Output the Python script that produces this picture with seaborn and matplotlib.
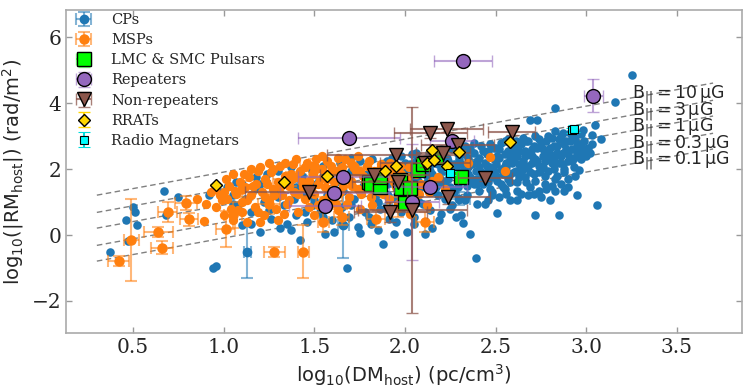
import numpy as np
import pandas as pd
import matplotlib
matplotlib.use('Agg')
import matplotlib.pyplot as plt
from matplotlib.colors import to_rgba
import seaborn as sns

sns.set_style('ticks')
plt.rcParams['font.family'] = ['DejaVu Serif']
plt.rcParams['mathtext.fontset'] = 'dejavusans'

# --- CPs (bulk, no visible error bars) ---
cp_x = [0.37, 0.47, 0.46, 0.50, 0.51, 0.52, 0.67, 0.68, 0.75, 0.94, 0.96,
        0.92, 0.98, 1.02, 1.05, 1.07, 1.08, 1.10, 1.12, 1.15, 1.17, 1.18, 1.20, 1.22, 1.24,
        1.26, 1.28, 1.30, 1.31, 1.33, 1.35, 1.37, 1.37, 1.39, 1.40, 1.42, 1.43, 1.45, 1.46, 1.48, 1.49,
        1.51, 1.53, 1.55, 1.56, 1.57, 1.59, 1.60, 1.61, 1.62, 1.64, 1.65, 1.66, 1.68, 1.69, 1.70, 1.72,
        1.74, 1.75, 1.77, 1.78, 1.79,
        1.81, 1.82, 1.84, 1.86, 1.88, 1.88, 1.90, 1.91, 1.93, 1.94, 1.95, 1.97, 1.98, 2.00, 2.01, 2.02,
        2.04, 2.05, 2.07, 2.08, 2.09,
        2.11, 2.12, 2.13, 2.14, 2.15, 2.16, 2.18, 2.19, 2.20, 2.21, 2.22, 2.23, 2.24, 2.26, 2.27, 2.28,
        2.29, 2.30, 2.31, 2.32, 2.33, 2.34, 2.35, 2.36, 2.37, 2.38, 2.39, 2.40,
        2.41, 2.42, 2.43, 2.44, 2.45, 2.46, 2.47, 2.48, 2.49, 2.50, 2.51, 2.52, 2.53, 2.54, 2.55, 2.56,
        2.57, 2.58, 2.59, 2.60, 2.61, 2.62, 2.63, 2.64, 2.65, 2.66, 2.67, 2.68, 2.69, 2.70,
        2.71, 2.72, 2.72, 2.73, 2.74, 2.75, 2.76, 2.77, 2.78, 2.79, 2.80, 2.81, 2.82, 2.83, 2.83, 2.84,
        2.85, 2.86, 2.87, 2.88, 2.89, 2.90, 2.91, 2.92, 2.94, 2.95, 2.96, 2.97, 2.98, 3.00,
        3.02, 3.03, 3.03, 3.05, 3.06, 3.08, 3.16, 3.25,
        2.02, 2.06, 2.10, 2.14, 2.17, 2.21, 2.25, 2.27, 2.30, 2.33, 2.36, 2.38, 2.41, 2.43, 2.45, 2.47,
        2.49, 2.51, 2.53, 2.55, 2.57, 2.58, 2.60, 2.62, 2.63, 2.65, 2.66, 2.68, 2.70, 2.71, 2.73, 2.74,
        2.76, 2.77, 2.79, 2.80, 2.82, 2.84, 2.85, 2.87, 2.88, 2.90, 2.92, 2.93, 2.95, 2.97, 2.99, 2.86,
        2.78, 2.69, 2.64, 2.56, 2.46, 2.52, 2.75, 2.88, 2.94, 2.40, 2.35, 2.58, 2.67, 2.72, 2.83, 2.61,
        2.50]
cp_y = [-0.52, -0.18, 0.45, 0.85, 0.70, 0.30, 1.33, 0.60, 1.15, -1.00, -0.94,
        1.20, 1.30, 1.45, 1.20, 1.60, 0.90, 0.30, 1.10, 0.70, 1.40, 1.75, 0.10, 1.00, 1.85,
        0.50, 1.30, 1.95, 0.20, 0.90, 1.60, 2.06, 0.15, 1.10, 0.60, -0.15, 1.80, 1.30, 0.40, 2.00, 0.90,
        1.55, 0.70, 2.10, 0.03, 1.20, 1.85, 0.45, 0.10, 1.60, 2.20, 0.85, 1.35, -1.00, 0.55, 1.95, 1.10,
        0.24, 2.25, 1.50, 0.70, 1.85,
        0.35, 2.30, 1.20, 0.80, -0.27, 2.00, 1.55, 0.50, 2.35, 0.03, 1.10, 1.80, 0.70, 2.20, 0.10, 1.35,
        2.45, 0.55, 1.65, 1.00, 2.10,
        0.03, 1.80, 2.50, 0.75, 1.30, 2.20, 1.55, 0.45, 2.60, 1.95, 1.10, 2.35, 1.70, 0.90, 2.15, 2.70,
        1.45, 1.90, 0.60, 0.36, 2.45, 1.20, 2.05, 0.03, 1.65, 2.80, -0.70, 2.25,
        1.35, 1.90, 2.55, 0.95, 2.10, 1.60, 2.75, 1.20, 2.30, 1.80, 0.67, 2.60, 2.00, 1.45, 2.85, 2.20,
        1.70, 1.05, 2.45, 1.90, 2.70, 1.35, 2.15, 1.85, 2.95, 2.40, 1.60, 2.10, 3.48, 2.60,
        1.25, 0.62, 2.30, 3.48, 1.90, 2.80, 2.05, 1.55, 2.50, 3.00, 1.06, 2.20, 2.70, 1.33, 3.85, 1.80,
        0.62, 2.40, 3.10, 2.00, 2.60, 1.70, 2.85, 2.25, 3.05, 2.50, 1.97, 2.75, 3.18, 2.40,
        2.50, 2.76, 3.03, 3.33, 0.90, 2.90, 4.03, 4.85,
        1.85, 2.25, 1.50, 1.95, 2.40, 1.65, 2.05, 1.30, 2.30, 1.75, 2.60, 1.55, 2.05, 1.75, 2.45, 1.40,
        1.95, 2.40, 1.55, 2.10, 2.55, 1.85, 2.30, 1.60, 2.55, 2.00, 1.75, 2.45, 2.20, 1.85, 2.65, 2.10,
        2.40, 1.80, 2.30, 2.65, 2.00, 2.50, 2.90, 2.15, 2.75, 2.45, 2.95, 2.05, 2.75, 2.30, 2.60, 1.55,
        1.40, 1.45, 1.25, 1.25, 1.05, 1.15, 1.15, 1.35, 1.80, 1.55, 1.85, 2.30, 2.85, 3.00, 3.15, 2.85,
        2.65]

# dense CP band (the solid blue mass)
cp_band_x = [1.90, 1.92, 1.94, 1.96, 1.98, 2.00, 2.01, 2.03, 2.05, 2.06, 2.08, 2.09, 2.11, 2.12, 2.13,
             2.15, 2.16, 2.17, 2.18, 2.19,
             2.20, 2.21, 2.22, 2.23, 2.24, 2.25, 2.26, 2.27, 2.28, 2.29, 2.30, 2.31, 2.32, 2.33, 2.34,
             2.35, 2.36, 2.37, 2.38, 2.39, 2.40, 2.41, 2.42, 2.43, 2.44, 2.45, 2.46, 2.47, 2.48, 2.49,
             2.50, 2.51, 2.52, 2.53, 2.54, 2.55, 2.56, 2.57, 2.58, 2.59, 2.60, 2.61, 2.62, 2.63, 2.64,
             2.65, 2.66, 2.67, 2.68, 2.69, 2.70, 2.71, 2.72, 2.73, 2.74, 2.75, 2.76, 2.77, 2.78, 2.79,
             2.80, 2.81, 2.82, 2.83, 2.84, 2.85, 2.86, 2.87, 2.88, 2.89, 2.90, 2.91, 2.92, 2.93, 2.94,
             2.96, 2.97, 2.98, 2.99, 3.01,
             2.10, 2.18, 2.25, 2.33, 2.40, 2.48, 2.55, 2.62, 2.68, 2.74, 2.81, 2.90, 2.95, 2.20, 2.28,
             1.95, 2.05, 2.15, 1.85, 1.75,
             1.05, 1.10, 1.15, 1.20, 1.25, 1.30, 1.35, 1.40, 1.45, 1.50, 1.55, 1.60, 1.65, 1.70, 1.75,
             1.80, 1.85, 1.90, 1.55, 1.70]
cp_band_y = [2.25, 1.85, 2.05, 1.60, 2.40, 1.90, 1.55, 2.15, 1.75, 2.50, 1.40, 1.95, 2.30, 1.60, 2.05,
             1.85, 2.55, 1.45, 2.15, 1.75,
             2.00, 2.45, 1.55, 1.90, 2.25, 1.45, 2.60, 1.85, 2.10, 2.45, 1.60, 2.15, 1.95, 2.70, 1.50,
             2.35, 1.75, 2.15, 2.50, 1.95, 1.70, 2.35, 2.70, 1.55, 2.20, 1.90, 2.55, 2.05, 1.75, 2.65,
             2.15, 1.65, 2.35, 2.80, 1.85, 2.45, 2.05, 2.90, 1.60, 2.20, 2.60, 1.95, 2.40, 1.75, 2.75,
             2.25, 2.55, 2.05, 2.85, 1.90, 2.40, 2.70, 1.65, 2.25, 2.90, 2.00, 2.60, 2.25, 2.85, 1.95,
             2.45, 2.95, 2.35, 1.70, 2.70, 2.20, 3.00, 2.50, 1.90, 2.85, 2.25, 3.10, 2.60, 2.35, 2.90,
             2.60, 3.05, 2.45, 2.85, 2.65,
             0.95, 1.20, 0.80, 1.05, 0.95, 1.30, 1.40, 1.05, 1.20, 1.35, 1.50, 1.45, 1.20, 0.65, 0.55,
             0.40, 0.35, 0.20, 0.15, 0.05,
             0.95, 1.55, 0.35, 1.55, 0.75, 1.15, 0.35, 1.45, 0.70, 1.05, 0.55, 1.25, 0.35, 0.90, 1.30,
             0.55, 1.00, 0.80, 1.80, 2.35]

# --- CPs with visible error bars ---
cpe_x = [1.13, 1.66, 1.43, 1.90, 2.30]
cpe_y = [-0.52, 0.30, 1.60, 1.20, 1.10]
cpe_xerr = [0.02, 0.03, 0.08, 0.05, 0.06]
cpe_yerr = [0.78, 1.00, 0.20, 0.25, 0.20]

# --- MSPs ---
msp_x = [0.85, 0.89, 0.93, 0.96, 0.98, 1.00, 1.02, 1.03, 1.05, 1.06, 1.08, 1.09, 1.10, 1.12, 1.13, 1.14,
         1.15, 1.17, 1.18, 1.19, 1.21, 1.22, 1.23, 1.25, 1.26, 1.27, 1.29, 1.30, 1.31, 1.32, 1.34, 1.35,
         1.36, 1.38, 1.39, 1.40, 1.41, 1.42, 1.44, 1.45, 1.46, 1.47, 1.49, 1.50, 1.51, 1.52, 1.53, 1.54,
         1.56, 1.57, 1.58, 1.60, 1.61, 1.63, 1.64, 1.65, 1.67, 1.68, 1.70, 1.71, 1.73, 1.74, 1.76, 1.77,
         1.79, 1.80, 1.82, 1.83, 1.85, 1.87, 1.89, 1.91, 1.93, 1.95, 1.97, 1.99, 2.01, 2.03, 2.05, 2.08,
         2.12, 2.15, 2.22, 2.47, 2.35, 2.55,
         0.90, 0.95, 0.99, 1.01, 1.04, 1.07, 1.11, 1.13, 1.16, 1.19, 1.20, 1.23, 1.24, 1.27, 1.28, 1.31,
         1.33, 1.34, 1.36, 1.37, 1.40, 1.41, 1.43, 1.45, 1.47, 1.48, 1.50, 1.52, 1.54, 1.55, 1.57, 1.59,
         1.60, 1.62, 1.63, 1.66, 1.67, 1.69, 1.70, 1.72, 1.74, 1.75, 1.78, 1.80, 1.81, 1.84, 1.86, 1.88,
         1.90, 1.92, 1.94, 1.96, 1.98, 2.00, 2.02, 2.04, 2.06, 2.09, 2.13, 2.18, 1.15, 1.25, 1.05, 1.30,
         1.20, 1.10, 1.50, 1.75, 1.62, 1.00]
msp_y = [1.09, 0.42, 1.30, 0.85, 1.20, 0.60, 1.10, 1.50, 0.45, 1.35, 0.75, 1.60, 1.00, 1.45, 0.40, 1.75,
         1.20, 0.85, 1.55, 1.95, 1.30, 0.60, 1.70, 1.05, 1.90, 1.40, 0.80, 1.60, 2.10, 1.20, 1.80, 0.95,
         1.50, 2.15, 1.30, 1.75, 0.70, 1.95, 1.45, 1.10, 2.20, 1.65, 1.85, 1.25, 2.30, 0.90, 1.70, 2.00,
         1.45, 2.25, 1.10, 1.90, 1.60, 2.35, 1.30, 2.05, 1.75, 0.95, 2.20, 1.50, 1.95, 2.40, 1.25, 1.80,
         2.10, 1.55, 0.90, 1.95, 1.35, 2.15, 1.70, 1.10, 1.90, 1.45, 2.10, 1.20, 1.75, 0.65, 1.50, 1.25,
         0.90, 1.65, 1.40, 2.36, 2.20, 1.95,
         0.95, 1.40, 1.05, 1.70, 0.80, 1.25, 1.85, 1.05, 1.50, 0.70, 2.05, 1.15, 1.55, 2.00, 1.20, 1.45,
         0.65, 2.20, 1.05, 1.85, 2.30, 1.25, 1.60, 2.05, 0.85, 1.40, 1.95, 1.55, 2.40, 1.05, 1.70, 2.10,
         1.35, 1.95, 0.75, 1.50, 2.30, 1.15, 1.65, 2.10, 1.40, 1.95, 1.60, 2.25, 1.15, 1.70, 2.00, 1.25,
         1.80, 2.20, 1.60, 0.95, 1.85, 1.45, 2.05, 1.10, 1.85, 1.55, 1.30, 1.75, 2.00, 2.20, 1.85, 0.45,
         0.40, 0.70, 0.60, 0.80, 0.95, 1.30]

mspe_x = [0.42, 0.49, 0.64, 0.66, 0.69, 0.81, 0.79, 1.01, 1.28, 1.44, 1.55, 1.65, 1.84, 2.11,
          1.10, 1.25, 1.37, 1.58, 1.72, 1.96, 1.05, 1.50]
mspe_y = [-0.80, -0.15, 0.10, -0.38, 0.70, 0.48, 0.97, 0.18, -0.52, -0.50, 0.40, 0.55, 0.50, 0.40,
          1.40, 0.95, 1.70, 1.15, 2.05, 0.85, 0.60, 2.10]
mspe_xerr = [0.06, 0.04, 0.08, 0.06, 0.05, 0.05, 0.06, 0.05, 0.06, 0.03, 0.03, 0.04, 0.05, 0.05,
             0.08, 0.06, 0.10, 0.07, 0.09, 0.06, 0.05, 0.08]
mspe_yerr = [0.15, 1.24, 0.15, 0.20, 0.30, 0.20, 0.20, 0.55, 0.15, 0.80, 0.30, 0.25, 0.25, 0.30,
             0.25, 0.30, 0.20, 0.35, 0.25, 0.30, 0.40, 0.20]

# --- LMC & SMC pulsars ---
lmc_x = [1.80, 1.81, 1.86, 1.86, 1.97, 1.98, 2.03, 2.00, 2.07, 2.10, 2.17, 2.31]
lmc_y = [1.60, 1.55, 1.45, 1.76, 1.67, 1.42, 1.42, 0.97, 1.97, 2.15, 2.36, 1.76]
lmc_xerr = [0.02, 0.02, 0.03, 0.02, 0.02, 0.03, 0.02, 0.02, 0.03, 0.02, 0.02, 0.03]
lmc_yerr = [0.10, 0.08, 0.12, 0.15, 0.10, 0.10, 0.12, 0.10, 0.15, 0.10, 0.10, 0.10]

# --- FRB repeaters ---
rep_x = [2.32, 1.69, 3.04, 1.66, 1.61, 1.56, 2.14, 2.26, 2.04]
rep_y = [5.27, 2.95, 4.23, 1.76, 1.27, 0.87, 1.45, 2.85, 1.00]
rep_xerr = [0.16, 0.28, 0.05, 0.25, 0.30, 0.20, 0.20, 0.12, 0.15]
rep_yerr = [0.05, 0.05, 0.50, 0.10, 0.10, 0.10, 0.10, 0.10, 1.75]

# --- FRB non-repeaters ---
nr_x = [1.47, 1.83, 1.95, 1.96, 1.92, 2.04, 2.14, 2.23, 2.29, 2.21, 2.24, 2.44, 2.59, 2.11]
nr_y = [1.30, 1.82, 2.42, 1.61, 0.70, 0.76, 3.09, 3.21, 2.73, 2.48, 1.15, 1.73, 3.12, 2.20]
nr_xerr = [0.35, 0.30, 0.38, 0.25, 0.20, 0.30, 0.20, 0.20, 0.20, 0.15, 0.23, 0.15, 0.13, 0.25]
nr_yerr = [0.10, 0.15, 0.20, 0.10, 0.30, 3.13, 0.15, 0.10, 0.15, 0.10, 0.20, 0.10, 0.10, 0.15]

# --- RRATs ---
rrat_x = [0.96, 1.33, 1.57, 1.89, 1.95, 2.12, 2.15, 2.16, 2.23, 2.30, 2.58]
rrat_y = [1.52, 1.61, 1.79, 1.94, 2.09, 2.18, 2.58, 2.27, 2.09, 2.52, 2.82]
rrat_yerr = [0.03, 0.03, 0.03, 0.03, 0.03, 0.03, 0.03, 0.03, 0.03, 0.03, 0.03]

# --- Radio magnetars ---
mag_x = [2.25, 2.92, 2.93]
mag_y = [1.88, 3.18, 3.23]
mag_yerr = [0.05, 0.08, 0.12]

# --- B_parallel reference lines ---
b_values = [10, 3, 1, 0.3, 0.1]
b_labels = ['10', '3', '1', '0.3', '0.1']
line_x = [0.3, 3.7]

fig = plt.figure(figsize=(7.47, 3.88), dpi=100)
ax = fig.add_axes([0.0884, 0.1418, 0.905, 0.832])

for b, lab in zip(b_values, b_labels):
    off = np.log10(0.812 * b)
    lines = pd.DataFrame({'x': line_x, 'y': [v + off for v in line_x]})
    sns.lineplot(data=lines, x='x', y='y', ax=ax, color='grey', lw=1,
                 linestyle=(0, (4, 2.5)), zorder=1)
    ax.text(3.25, line_x[1] + off - 0.35,
            r'$\mathrm{B_{||}} = ' + lab + r'\,\mathrm{\mu G}$',
            fontsize=12.5, va='center', ha='left', zorder=2)

blue, orange = '#1f77b4', '#ff7f0e'
ekw = dict(capsize=4.5, elinewidth=1.5, capthick=1.5, linestyle='none')

# CPs
sns.scatterplot(x=cp_x, y=cp_y, ax=ax, color=blue, s=38, linewidth=0,
                legend=False, zorder=3)
sns.scatterplot(x=cp_band_x, y=cp_band_y, ax=ax, color=blue, s=38, linewidth=0,
                legend=False, zorder=3)
ax.errorbar(cpe_x, cpe_y, xerr=cpe_xerr, yerr=cpe_yerr, fmt='o', ms=6,
            color=blue, ecolor=to_rgba(blue, 0.55), label='CPs', zorder=3, **ekw)

# MSPs
ax.errorbar(mspe_x, mspe_y, xerr=mspe_xerr, yerr=mspe_yerr, fmt='o', ms=6.5,
            color=orange, ecolor=to_rgba(orange, 0.55), label='MSPs', zorder=4, **ekw)
sns.scatterplot(x=msp_x, y=msp_y, ax=ax, color=orange, s=45, linewidth=0,
                legend=False, zorder=4)

ax.errorbar(lmc_x, lmc_y, xerr=lmc_xerr, yerr=lmc_yerr, fmt='s', ms=10,
            color='#00ff00', mec='black', mew=1, ecolor=to_rgba('#00ff00', 0.5),
            label='LMC & SMC Pulsars', zorder=5, **ekw)
ax.errorbar(rep_x, rep_y, xerr=rep_xerr, yerr=rep_yerr, fmt='o', ms=10,
            color='#9467bd', mec='black', mew=1, ecolor=to_rgba('#9467bd', 0.6),
            label='Repeaters', zorder=6, **ekw)
ax.errorbar(nr_x, nr_y, xerr=nr_xerr, yerr=nr_yerr, fmt='v', ms=10,
            color='#8c564b', mec='black', mew=1, ecolor=to_rgba('#8c564b', 0.75),
            label='Non-repeaters', zorder=6, **ekw)
ax.errorbar(rrat_x, rrat_y, yerr=rrat_yerr, fmt='D', ms=6.5,
            color='#ffd700', mec='black', mew=1, ecolor='#ffd700',
            label='RRATs', zorder=7, **ekw)
ax.errorbar(mag_x, mag_y, yerr=mag_yerr, fmt='s', ms=6,
            color='#00ffff', mec='black', mew=0.8, ecolor='#00dddd',
            label='Radio Magnetars', zorder=8, **ekw)

ax.set_xlim(0.13, 3.86)
ax.set_ylim(-2.97, 6.82)
ax.set_xticks([0.5, 1.0, 1.5, 2.0, 2.5, 3.0, 3.5])
ax.set_yticks([-2, 0, 2, 4, 6])
ax.tick_params(direction='in', top=True, right=True, length=4, width=1,
               color='#999999', labelsize=14.5)
for sp in ax.spines.values():
    sp.set_color('#aaaaaa')
    sp.set_linewidth(1.2)

ax.set_xlabel(r'$\mathrm{log_{10}(DM_{host})\ (pc/cm^3)}$', fontsize=14)
ax.set_ylabel(r'$\mathrm{log_{10}(|RM_{host}|)\ (rad/m^2)}$', fontsize=14)

ax.legend(loc='upper left', frameon=False, fontsize=10.5, labelspacing=0.42,
          borderaxespad=0.1, borderpad=0.1, handletextpad=0.9, handlelength=2.0)

fig.savefig('out.png', dpi=100)
